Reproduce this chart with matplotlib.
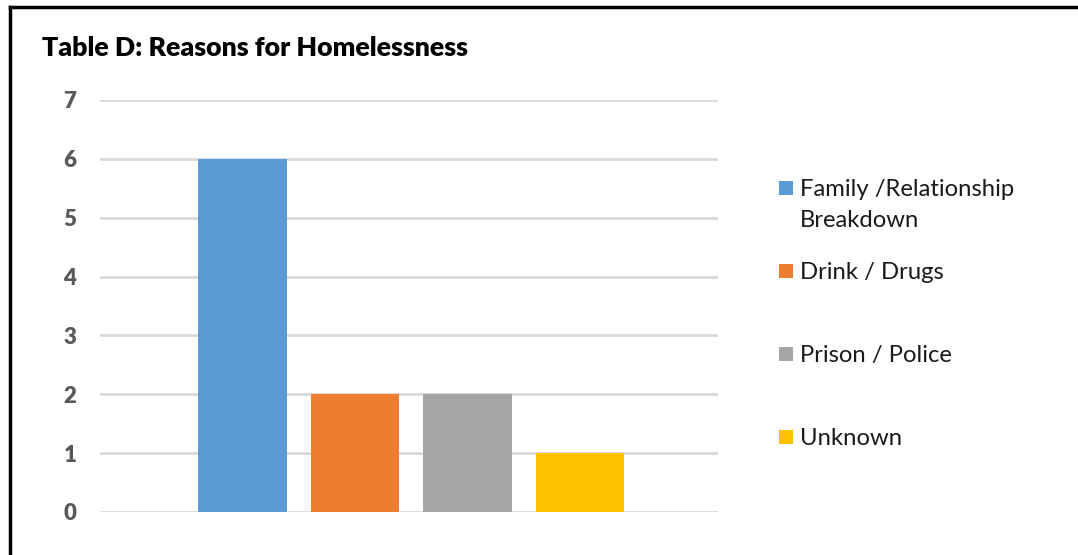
import matplotlib
matplotlib.use("Agg")
from matplotlib import pyplot as plt
from matplotlib.lines import Line2D
import matplotlib.patches as patches

# Reasons for homelessness, one bar per reason
reasons = ["Family /Relationship\nBreakdown", "Drink / Drugs", "Prison / Police", "Unknown"]
counts = [6, 2, 2, 1]
colors = ["#5B9BD5", "#ED7D31", "#A5A5A5", "#FFC000"]
yticks = [0, 1, 2, 3, 4, 5, 6, 7]

plt.rcParams['font.family'] = ['Lato', 'DejaVu Sans']

W, H = 1078, 555
fig = plt.figure(figsize=(W / 100, H / 100), dpi=100)
fig.patch.set_facecolor('white')

# plot area in pixels: left 100, right 718, top 100 (7), bottom 512 (0)
ax = fig.add_axes([100 / W, 1 - 512 / H, 618 / W, 412 / H])
xs = range(len(counts))
ax.bar(xs, counts, width=0.79, color=colors, zorder=3)
ax.set_xlim(-1.267, 4.227)
ax.set_ylim(0, 7)
ax.set_yticks(yticks)
ax.set_yticklabels([str(t) for t in yticks], fontsize=16, fontweight='heavy', color='#595959')
ax.tick_params(axis='y', length=0, pad=17)
ax.set_xticks([])
for s in ax.spines.values():
    s.set_visible(False)
ax.grid(axis='y', color='#D9D9D9', linewidth=2, zorder=0)
ax.set_axisbelow(True)

fig.text(42 / W, 1 - 56 / H, "Table D: Reasons for Homelessness", fontsize=19.3,
         fontweight='heavy', color='black', va='baseline', ha='left')

# legend drawn by hand, entries are not evenly spaced
legend_y = [188, 271, 354, 437]
for label, c, y in zip(reasons, colors, legend_y):
    fig.patches.append(patches.Rectangle((779 / W, 1 - (y + 7) / H), 14 / W, 14 / H,
                                         transform=fig.transFigure, facecolor=c,
                                         edgecolor='none'))
    for i, line in enumerate(label.split("\n")):
        fig.text(800 / W, 1 - (y + 8 + 31 * i) / H, line, fontsize=17.2, color='#1a1a1a',
                 va='baseline', ha='left')

# black frame along top and left edge
fig.add_artist(Line2D([9.5 / W, 1], [1 - 6.5 / H, 1 - 6.5 / H], color='black', linewidth=2.5,
                      transform=fig.transFigure))
fig.add_artist(Line2D([9.5 / W, 9.5 / W], [0, 1 - 6.5 / H], color='black', linewidth=2.5,
                      transform=fig.transFigure))

fig.savefig("out.png", dpi=100)
